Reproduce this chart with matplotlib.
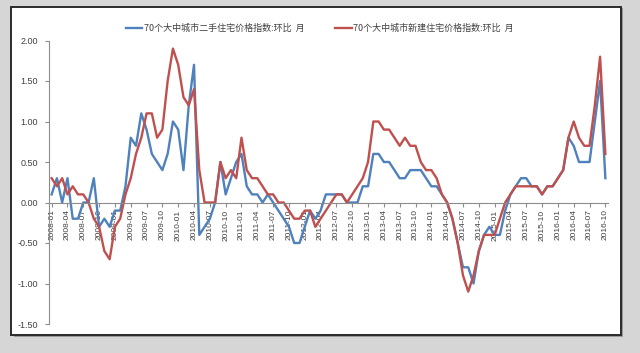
import pandas as pd
import matplotlib.pyplot as plt
from matplotlib.patches import Rectangle

plt.rcParams['font.family'] = ['Liberation Sans', 'Noto Sans CJK SC', 'DejaVu Sans']

# meses de 2008-01 a 2016-10
meses = pd.date_range('2008-01-01', '2016-10-01', freq='MS').strftime('%Y-%m').tolist()

nome_usado = '70个大中城市二手住宅价格指数:环比  月'
nome_novo = '70个大中城市新建住宅价格指数:环比  月'

# 二手住宅 (azul)
usado = [0.1, 0.3, 0.0, 0.3, -0.2, -0.2, 0.0, 0.0, 0.3, -0.3, -0.2, -0.3,
         -0.1, -0.1, 0.2, 0.8, 0.7, 1.1, 0.9, 0.6, 0.5, 0.4, 0.6, 1.0,
         0.9, 0.4, 1.2, 1.7, -0.4, -0.3, -0.2, 0.0, 0.5, 0.1, 0.3, 0.5,
         0.6, 0.2, 0.1, 0.1, 0.0, 0.1, 0.0, -0.1, -0.2, -0.3, -0.5, -0.5,
         -0.3, -0.1, -0.2, -0.1, 0.1, 0.1, 0.1, 0.1, 0.0, 0.0, 0.0, 0.2,
         0.2, 0.6, 0.6, 0.5, 0.5, 0.4, 0.3, 0.3, 0.4, 0.4, 0.4, 0.3,
         0.2, 0.2, 0.1, 0.0, -0.2, -0.5, -0.8, -0.8, -1.0, -0.6, -0.4, -0.3,
         -0.4, -0.4, -0.1, 0.1, 0.2, 0.3, 0.3, 0.2, 0.2, 0.1, 0.2, 0.2,
         0.3, 0.4, 0.8, 0.7, 0.5, 0.5, 0.5, 1.0, 1.5, 0.3]

# 新建住宅 (vermelho)
novo = [0.3, 0.2, 0.3, 0.1, 0.2, 0.1, 0.1, 0.0, -0.2, -0.3, -0.6, -0.7,
        -0.3, -0.2, 0.1, 0.3, 0.6, 0.8, 1.1, 1.1, 0.8, 0.9, 1.5, 1.9,
        1.7, 1.3, 1.2, 1.4, 0.4, 0.0, 0.0, 0.0, 0.5, 0.3, 0.4, 0.3,
        0.8, 0.4, 0.3, 0.3, 0.2, 0.1, 0.1, 0.0, 0.0, -0.1, -0.2, -0.2,
        -0.1, -0.1, -0.3, -0.2, -0.1, 0.0, 0.1, 0.1, 0.0, 0.1, 0.2, 0.3,
        0.5, 1.0, 1.0, 0.9, 0.9, 0.8, 0.7, 0.8, 0.7, 0.7, 0.5, 0.4,
        0.4, 0.3, 0.1, 0.0, -0.2, -0.5, -0.9, -1.1, -0.9, -0.6, -0.4, -0.4,
        -0.4, -0.2, 0.0, 0.1, 0.2, 0.2, 0.2, 0.2, 0.2, 0.1, 0.2, 0.2,
        0.3, 0.4, 0.8, 1.0, 0.8, 0.7, 0.7, 1.2, 1.8, 0.6]

y_ticks = [-1.5, -1.0, -0.5, 0.0, 0.5, 1.0, 1.5, 2.0]

fig = plt.figure(figsize=(6.4, 3.53), dpi=100, facecolor='#d6d6d6')

# moldura branca do gráfico (atrás dos eixos)
W, H = 640, 353
fig.patches.append(Rectangle((14 / W, 1 - 337 / H), 609 / W, 329 / H, transform=fig.transFigure,
                             facecolor='#9a9a9a', edgecolor='none', zorder=-3))
fig.patches.append(Rectangle((11 / W, 1 - 335 / H), 610 / W, 328 / H, transform=fig.transFigure,
                             facecolor='white', edgecolor='#2b2b2b', linewidth=1.4, zorder=-2))

ax = fig.add_axes([49 / W, 1 - 324 / H, 559 / W, 283.5 / H])
ax.set_facecolor('none')

x = list(range(len(meses)))
ax.plot(x, usado, color='#4f81bd', lw=1.7, label=nome_usado)
ax.plot(x, novo, color='#c0504d', lw=1.7, label=nome_novo)

ax.set_xlim(-0.5, len(meses) - 0.5)
ax.set_ylim(-1.5, 2.0)

ax.spines['top'].set_visible(False)
ax.spines['right'].set_visible(False)
ax.spines['left'].set_color('#8c8c8c')
ax.spines['bottom'].set_color('#8c8c8c')
ax.spines['bottom'].set_position(('data', 0))

ax.set_yticks(y_ticks)
ax.set_yticklabels(['%.2f' % v for v in y_ticks])
ax.set_xticks(x[::3])
ax.set_xticklabels(meses[::3], rotation=90)
ax.tick_params(axis='y', labelsize=6.5, length=3, pad=5, color='#8c8c8c', labelcolor='#404040')
ax.tick_params(axis='x', labelsize=6, length=3, pad=2, color='#8c8c8c', labelcolor='#404040')

fig.legend(loc='center', bbox_to_anchor=(0.5, 1 - 28 / H), ncol=2, frameon=False,
           prop={'family': ['Noto Sans CJK SC'], 'size': 6.5}, handlelength=1.8,
           columnspacing=3.4, handletextpad=0.2, labelcolor='#404040')

fig.savefig('out.png', dpi=100, facecolor=fig.get_facecolor())
